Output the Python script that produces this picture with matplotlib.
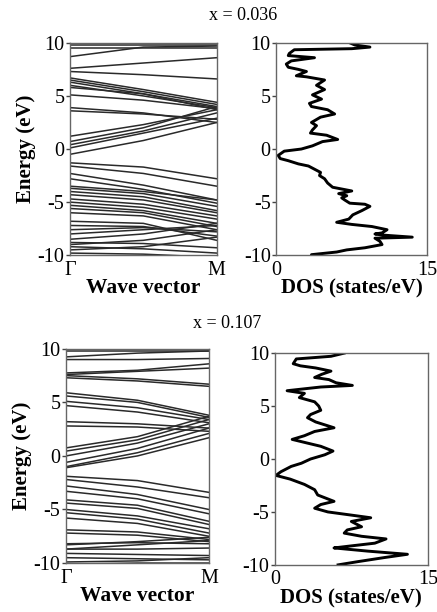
import numpy as np
import matplotlib
matplotlib.use("Agg")
import matplotlib.pyplot as plt

plt.rcParams['font.family'] = ['Liberation Serif', 'DejaVu Serif']

# k-path positions (Gamma, midpoint, M)
kpts = [0.0, 0.5, 1.0]

# band energies (eV) at Gamma, mid, M  -- x = 0.036
bands_036 = [
    (9.8, 9.8, 9.8), (9.5, 9.5, 9.5), (8.7, 9.6, 9.7), (7.6, 8.1, 8.6),
    (7.3, 7.0, 6.6), (6.7, 5.6, 4.4), (6.5, 5.4, 4.2), (6.3, 5.2, 4.0),
    (6.0, 5.0, 3.9), (5.8, 5.2, 3.7), (5.1, 4.6, 3.8), (3.9, 3.4, 2.5),
    (3.6, 3.3, 2.8), (1.2, 2.3, 3.7), (0.7, 2.0, 4.0), (0.4, 1.7, 3.4),
    (0.1, 1.5, 2.9), (-0.5, 0.8, 2.5), (-1.3, -1.7, -2.8), (-1.6, -2.3, -3.5),
    (-2.3, -3.4, -4.8), (-2.8, -3.8, -5.1), (-3.5, -4.0, -4.8), (-3.7, -4.2, -5.4),
    (-4.0, -4.5, -5.8), (-4.3, -4.8, -6.0), (-4.7, -5.2, -6.3), (-5.0, -5.5, -6.6),
    (-5.3, -5.8, -7.0), (-5.6, -6.0, -7.3), (-6.0, -6.3, -7.6), (-9.5, -9.2, -8.3),
    (-9.0, -8.6, -7.6), (-8.5, -8.0, -7.0), (-8.0, -7.6, -7.2), (-7.6, -7.4, -7.8),
    (-7.2, -7.3, -8.2), (-6.8, -7.0, -8.6), (-8.8, -8.9, -9.3), (-9.2, -9.4, -9.8),
    (-9.8, -9.9, -10.2),
]

# band energies (eV) at Gamma, mid, M  -- x = 0.107
bands_107 = [
    (9.8, 9.8, 9.8), (9.25, 9.6, 9.8), (9.0, 9.0, 9.1), (7.75, 8.0, 8.6),
    (7.6, 7.9, 8.2), (7.5, 7.2, 6.7), (7.3, 7.0, 6.5), (5.9, 5.2, 3.8),
    (5.6, 5.0, 3.6), (5.1, 4.5, 3.4), (4.7, 4.1, 3.1), (3.2, 3.0, 2.6),
    (2.8, 2.7, 2.3), (0.75, 1.8, 3.7), (0.45, 1.5, 3.4), (0.0, 1.2, 3.0),
    (-0.6, 0.7, 2.6), (-1.0, 0.3, 2.1), (-1.1, 0.0, 1.7), (-1.9, -2.3, -3.4),
    (-2.2, -2.9, -3.9), (-2.8, -3.6, -5.0), (-3.3, -4.0, -5.4), (-4.1, -4.6, -6.1),
    (-4.4, -4.9, -6.4), (-5.0, -5.6, -6.8), (-5.3, -5.9, -7.2), (-5.8, -6.3, -7.5),
    (-6.9, -7.1, -7.8), (-7.2, -7.4, -8.0), (-8.3, -8.0, -7.6), (-8.7, -8.3, -7.9),
    (-8.2, -8.1, -8.2), (-8.7, -8.7, -8.6), (-9.1, -9.2, -9.3), (-9.5, -9.6, -9.7),
    (-9.9, -9.8, -9.5), (-10.1, -10.0, -10.0),
]

# DOS curve traced as (states/eV, energy eV) -- x = 0.036
dos_036 = [7.3, 7.8, 9.3, 7.5, 1.8, 1.3, 1.2, 3.8, 1.5, 1.0, 1.2, 2.2, 3.0, 2.0,
           3.0, 4.8, 4.0, 4.8, 3.6, 4.5, 3.3, 3.5, 5.1, 5.8, 4.4, 3.5, 4.0, 3.6,
           3.4, 5.0, 6.1, 4.6, 3.6, 2.5, 0.8, 0.2, 0.4, 1.2, 2.2, 3.2, 3.8, 4.4,
           4.3, 4.8, 5.1, 5.6, 7.5, 6.2, 7.0, 6.5, 6.8, 7.3, 8.8, 9.3, 8.5, 7.6,
           7.2, 6.0, 7.5, 9.5, 11.0, 10.5, 9.8, 10.5, 13.5, 9.8, 10.3, 10.5, 8.8,
           7.0, 6.0, 3.5, 3.5]
dos_E_036 = [10.0, 9.8, 9.6, 9.45, 9.35, 9.0, 8.8, 8.6, 8.3, 8.0, 7.7, 7.5, 7.3, 6.9,
             6.8, 6.5, 6.0, 5.6, 5.1, 4.7, 4.3, 4.0, 3.7, 3.3, 3.0, 2.5, 2.2, 1.8,
             1.5, 1.3, 0.9, 0.7, 0.3, 0.0, -0.2, -0.6, -0.9, -1.1, -1.4, -1.6, -1.9, -2.2,
             -2.5, -2.8, -3.2, -3.6, -3.95, -4.2, -4.4, -4.6, -4.8, -5.1, -5.2, -5.4, -5.8, -6.2,
             -6.6, -6.9, -7.1, -7.3, -7.6, -7.9, -8.0, -8.1, -8.3, -8.4, -8.7, -9.0, -9.3,
             -9.5, -9.7, -9.95, -10.0]

# DOS curve traced as (states/eV, energy eV) -- x = 0.107
dos_107 = [6.8, 5.5, 2.1, 1.8, 2.5, 4.0, 5.5, 4.6, 3.9, 5.3, 6.0, 7.6, 4.5, 1.2,
           2.9, 2.4, 3.9, 4.3, 4.5, 3.5, 3.2, 4.0, 5.8, 3.9, 2.9, 1.7, 3.2, 4.5,
           5.7, 4.9, 3.5, 2.6, 1.6, 0.6, 0.1, 1.5, 2.9, 3.9, 4.2, 5.0, 5.8, 4.5,
           3.9, 5.2, 7.5, 9.4, 7.5, 8.5, 7.1, 6.8, 8.5, 10.9, 9.8, 7.1, 5.8, 9.1,
           13.0, 10.8, 8.1, 6.2]
dos_E_107 = [10.0, 9.7, 9.45, 9.0, 8.8, 8.6, 8.3, 8.0, 7.7, 7.5, 7.2, 6.95, 6.8, 6.45,
             6.2, 5.8, 5.4, 5.0, 4.6, 4.2, 3.9, 3.5, 2.95, 2.6, 2.2, 1.85, 1.5, 1.2,
             0.75, 0.4, 0.0, -0.4, -0.7, -1.2, -1.55, -1.9, -2.4, -2.9, -3.4, -3.7, -4.0, -4.3,
             -4.65, -5.0, -5.3, -5.55, -5.9, -6.4, -6.7, -7.0, -7.3, -7.55, -7.95, -8.25, -8.4, -8.7,
             -9.0, -9.3, -9.7, -10.0]

titles = ['x = 0.036', 'x = 0.107']
yticks = [-10, -5, 0, 5, 10]


def style_axes(ax):
    for s in ax.spines.values():
        s.set_color('#666666')
        s.set_linewidth(1.0)
    ax.set_ylim(-10, 10)
    ax.set_yticks(yticks)
    ax.set_yticklabels([str(t) for t in yticks], fontsize=14.5)
    ax.tick_params(axis='y', direction='out', length=3, width=1, color='#444444', pad=1)
    ax.tick_params(axis='x', length=0, labelsize=14.5, pad=4)


def band_panel(ax, bands):
    for b in bands:
        ax.plot(kpts, b, color='#2a2a2a', lw=1.1)
    style_axes(ax)
    ax.set_xlim(0, 1)
    ax.set_xticks([0, 1])
    ax.set_xticklabels(['Γ', 'M'])
    ax.set_ylabel('Energy (eV)', fontsize=15, fontweight='bold', labelpad=1)
    ax.set_xlabel('Wave vector', fontsize=15.5, fontweight='bold', labelpad=-1)


def dos_panel(ax, E, d):
    ax.plot(d, E, color='black', lw=2.1)
    style_axes(ax)
    ax.set_xlim(0, 15)
    ax.set_xticks([0, 15])
    ax.set_xticklabels(['0', '15'])
    ax.set_xlabel('DOS (states/eV)', fontsize=15, fontweight='bold', labelpad=-1)


fig = plt.figure(figsize=(4.37, 6.12), dpi=100)

ax1 = fig.add_axes([0.160, 0.583, 0.336, 0.347])
ax2 = fig.add_axes([0.632, 0.583, 0.346, 0.347])
ax3 = fig.add_axes([0.151, 0.080, 0.327, 0.350])
ax4 = fig.add_axes([0.629, 0.077, 0.350, 0.346])

band_panel(ax1, bands_036)
dos_panel(ax2, dos_E_036, dos_036)
band_panel(ax3, bands_107)
dos_panel(ax4, dos_E_107, dos_107)

fig.text(0.556, 0.975, titles[0], ha='center', va='center', fontsize=13)
fig.text(0.519, 0.472, titles[1], ha='center', va='center', fontsize=13)

fig.savefig('out.png', dpi=100)
